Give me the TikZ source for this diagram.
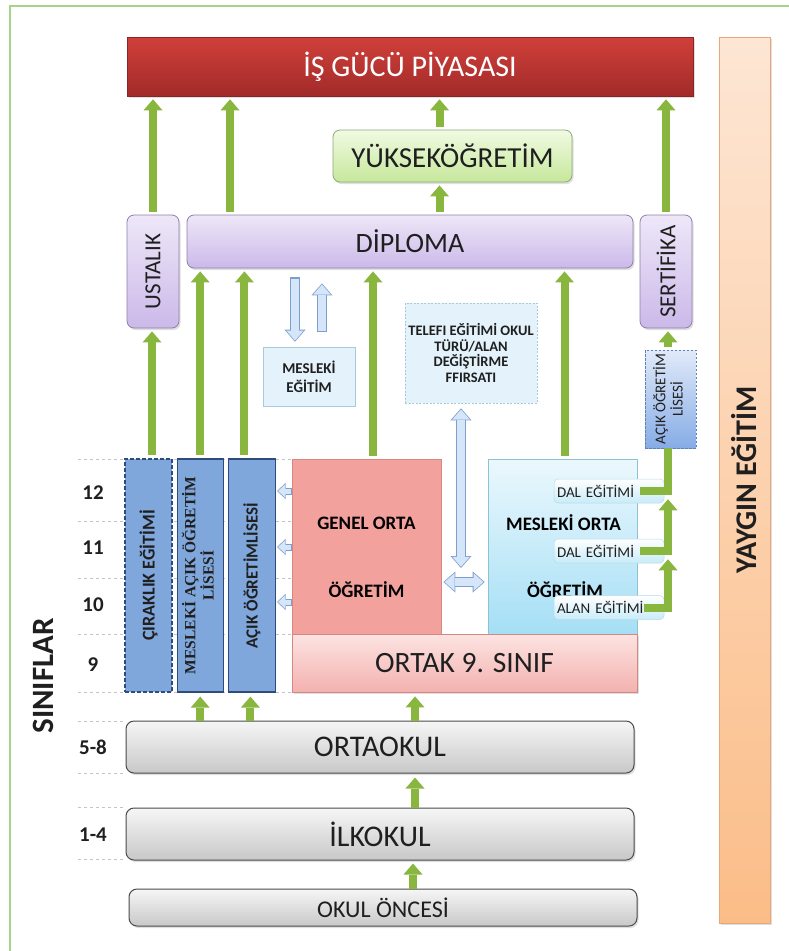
\documentclass[tikz,border=0pt]{standalone}
\usepackage{fontspec}
\setmainfont{Carlito}
\newfontfamily\timesfont{Liberation Serif}
\usepackage{tikz}
\usetikzlibrary{arrows.meta}
\usetikzlibrary{positioning}
\usetikzlibrary{calc}
\usetikzlibrary{shadows}

\definecolor{framegreen}{HTML}{A8D48A}
\definecolor{arrowgreen}{HTML}{89B63E}
\definecolor{marketred}{HTML}{D13F3A}
\definecolor{marketdark}{HTML}{A12B2A}
\definecolor{lavtop}{HTML}{EEE7F8}
\definecolor{lavbot}{HTML}{CBB9E9}
\definecolor{lavline}{HTML}{8E80A8}
\definecolor{uptop}{HTML}{F1FAE2}
\definecolor{upbot}{HTML}{C6E89B}
\definecolor{upline}{HTML}{8FA877}
\definecolor{hollowline}{HTML}{7F9FCB}
\definecolor{hollowfill}{HTML}{D5E5FA}
\definecolor{colfill}{HTML}{7FA7DC}
\definecolor{colline}{HTML}{2D4C7B}
\definecolor{genfill}{HTML}{F3A19D}
\definecolor{genline}{HTML}{D58784}
\definecolor{pinktop}{HTML}{FCE4E2}
\definecolor{pinkbot}{HTML}{F3B1AF}
\definecolor{cyantop}{HTML}{EBF8FD}
\definecolor{cyanbot}{HTML}{A5DFF5}
\definecolor{cyanline}{HTML}{8CC2D8}
\definecolor{greytop}{HTML}{F6F6F6}
\definecolor{greybot}{HTML}{C8C8C8}
\definecolor{greyline}{HTML}{4B4B4B}
\definecolor{peachtop}{HTML}{FDE6D4}
\definecolor{peachbot}{HTML}{FBBD88}
\definecolor{peachline}{HTML}{E8A679}
\definecolor{bluetop}{HTML}{E1EAF9}
\definecolor{bluebot}{HTML}{86ACE6}
\definecolor{blueline}{HTML}{6084B8}
\definecolor{paleblue}{HTML}{E4F3FB}
\definecolor{paleline}{HTML}{A9CADB}
\definecolor{gridgrey}{HTML}{C4C4C4}

\newcommand{\fs}[2]{\fontsize{#1}{#2}\selectfont}

\tikzset{
  boxbase/.style={inner sep=0pt, align=center, text=black!88},
  soft/.style={drop shadow={shadow xshift=1.5pt, shadow yshift=-2pt, opacity=0.25}},
  market/.style={boxbase, soft, top color=marketred, bottom color=marketdark, draw=marketdark!85!black, line width=0.6pt},
  lav/.style={boxbase, soft, rounded corners=7pt, top color=lavtop, bottom color=lavbot, draw=lavline, line width=0.8pt},
  lime/.style={boxbase, soft, rounded corners=7pt, top color=uptop, bottom color=upbot, draw=upline, line width=0.8pt},
  pale/.style={boxbase, fill=paleblue, draw=paleline, line width=0.6pt},
  sidecol/.style={boxbase, fill=colfill, draw=colline, line width=1.2pt, minimum height=233pt},
  genbox/.style={boxbase, fill=genfill, draw=genline, line width=0.8pt},
  pinkbox/.style={boxbase, soft, top color=pinktop, bottom color=pinkbot, draw=genline, line width=0.8pt},
  cyanbox/.style={boxbase, top color=cyantop, bottom color=cyanbot, draw=cyanline, line width=0.6pt},
  branchtag/.style={boxbase, rounded corners=4pt, top color=white, bottom color=cyantop!50!cyanbot, draw=cyanline!60, line width=0.5pt, minimum height=24pt, text width=104pt, inner xsep=3pt, align=left, font=\fs{15}{18}},
  stage/.style={boxbase, soft, rounded corners=8pt, top color=greytop, bottom color=greybot, draw=greyline, line width=1pt, minimum width=508pt},
  peach/.style={boxbase, soft, top color=peachtop, bottom color=peachbot, draw=peachline, line width=0.8pt},
  bluebox/.style={boxbase, top color=bluetop, bottom color=bluebot, draw=blueline, line width=0.8pt, dash pattern=on 2.5pt off 1.5pt},
  grade/.style={boxbase, font=\fs{21}{24}\bfseries},
  garrow/.style={draw=arrowgreen, line width=8pt, -{Triangle[width=19pt,length=11pt,line width=0pt]}},
  gline/.style={draw=arrowgreen, line width=8pt},
  gapped/.style={shorten <=3pt, shorten >=3pt},
  hbigout/.style={draw=hollowline, line width=10pt},
  hbigin/.style={draw=hollowfill, line width=8pt, shorten <=1.2pt, shorten >=1.2pt},
  hsmallout/.style={draw=hollowline, line width=7pt},
  hsmallin/.style={draw=hollowfill, line width=5pt, shorten <=1.1pt, shorten >=1.1pt},
  hob/.tip={Triangle[width=21pt,length=12pt,line width=0pt]},
  hib/.tip={Triangle[width=17.5pt,length=10pt,line width=0pt]},
  hos/.tip={Triangle[width=16pt,length=8.5pt,line width=0pt]},
  his/.tip={Triangle[width=13pt,length=6.9pt,line width=0pt]},
}

\begin{document}
\begin{tikzpicture}[x=1pt,y=-1pt]
	\useasboundingbox (0,0) rectangle (789,951);
	
	% frame and grade lines
	\draw[framegreen, line width=1.5pt] (10,951) -- (10,6) -- (789,6);
	\foreach \y in {459,521,578,634,692}
		\draw[gridgrey, dashed, line width=0.6pt] (78,\y) -- (292,\y);
	\foreach \y in {721,773,807,859}
		\draw[gridgrey, dashed, line width=0.6pt] (78,\y) -- (126,\y);
	
	\node[market, minimum width=566pt, minimum height=59pt, text=white, font=\fs{30}{34}] (market) at (410,66.5) {İŞ GÜCÜ PİYASASI};
	\node[peach, minimum width=51pt, minimum height=886pt, font=\fs{30}{34}\bfseries] (yaygin) at (744.5,480) {\rotatebox{90}{YAYGIN EĞİTİM}};
	
	\node[lime, minimum width=239pt, minimum height=52pt, font=\fs{29}{33}] (yuksek) at (452.5,156) {YÜKSEKÖĞRETİM};
	\node[lav, minimum width=446pt, minimum height=53pt, font=\fs{28}{32}] (diploma) at (410,241.5) {DİPLOMA};
	\node[lav, minimum width=52pt, minimum height=113pt, font=\fs{23}{26}] (ustalik) at (153,271.5) {\rotatebox{90}{USTALIK}};
	\node[lav, minimum width=52pt, minimum height=113pt, font=\fs{23}{26}] (sertifika) at (666,271.5) {\rotatebox{90}{SERTİFİKA}};
	
	\node[pale, minimum width=92pt, minimum height=59pt, font=\fs{15}{19}\bfseries] (meslegit) at (309,376.5) {MESLEKİ\\EĞİTİM};
	\node[pale, dash pattern=on 2pt off 1.5pt, minimum width=132pt, minimum height=100pt, font=\fs{14.5}{15.5}\bfseries] (telefi) at (471,353) {TELEFI EĞİTİMİ OKUL\\TÜRÜ/ALAN\\DEĞİŞTİRME\\FFIRSATI};
	\node[bluebox, minimum width=51pt, minimum height=98pt, font=\fs{15}{17}] (acikr) at (670.5,399) {\rotatebox{90}{\begin{tabular}{@{}c@{}}AÇIK ÖĞRETİM\\LİSESİ\end{tabular}}};
	
	% left columns
	\node[sidecol, dash pattern=on 4pt off 2pt, minimum width=47pt, font=\fs{18}{22}\bfseries] (cirak) at (148.5,575.5) {\rotatebox{90}{ÇIRAKLIK EĞİTİMİ}};
	\node[sidecol, minimum width=46pt, font=\timesfont\fs{15.5}{16}\bfseries, right=4pt of cirak] (maol) {\rotatebox{90}{\begin{tabular}{@{}c@{}}MESLEKİ AÇIK ÖĞRETİM\\LİSESİ\end{tabular}}};
	\node[sidecol, minimum width=47pt, font=\fs{17}{20}\bfseries, right=4pt of maol] (aol) {\rotatebox{90}{AÇIK ÖĞRETİMLİSESİ}};
	
	% secondary education
	\node[genbox, minimum width=149pt, minimum height=175pt] (genel) at (366.5,546.5) {};
	\node[font=\fs{19}{22}\bfseries] (genel1) at (366.5,523) {GENEL ORTA};
	\node[font=\fs{19}{22}\bfseries] (genel2) at (366.5,590) {ÖĞRETİM};
	\node[cyanbox, minimum width=149pt, minimum height=175pt] (meslorta) at (562.5,546.5) {};
	\node[font=\fs{19}{22}\bfseries] (meslorta1) at (563.5,523) {MESLEKİ ORTA};
	\node[font=\fs{19}{22}\bfseries] (meslorta2) at (565,590) {ÖĞRETİM};
	\node[pinkbox, minimum width=345pt, minimum height=58pt, font=\fs{29.5}{33}] (ortak) at (464.5,663) {ORTAK 9. SINIF};
	
	\node[branchtag] (dal1) at (609,491) {DAL EĞİTİMİ};
	\node[branchtag] (dal2) at (609,551) {DAL EĞİTİMİ};
	\node[branchtag] (alan) at (609,607.5) {ALAN EĞİTİMİ};
	
	% basic education
	\node[stage, minimum height=52pt, font=\fs{30}{34}] (ortaokul) at (380,747) {ORTAOKUL};
	\node[stage, minimum height=52pt, font=\fs{30}{34}, below=34pt of ortaokul] (ilkokul) {İLKOKUL};
	\node[stage, minimum height=37pt, font=\fs{24}{28}] (oncesi) at (383,907.5) {OKUL ÖNCESİ};
	
	% grades
	\node[grade] (g12) at (93,493) {12};
	\node[grade] (g11) at (93,548) {11};
	\node[grade] (g10) at (93,605) {10};
	\node[grade] (g9) at (93,665) {9};
	\node[grade] (g58) at (93,747) {5-8};
	\node[grade] (g14) at (93,835) {1-4};
	\node[boxbase, font=\fs{31}{34}\bfseries] (siniflar) at (43,676) {\rotatebox{90}{SINIFLAR}};
	
	% green arrows
	\draw[garrow, gapped] (ustalik.north) -- (ustalik.north |- market.south);
	\draw[garrow, gapped] ([xshift=-180pt]diploma.north) -- ([xshift=-180pt]diploma.north |- market.south);
	\draw[garrow, gapped] ([xshift=-13pt]yuksek.north) -- ([xshift=-13pt]yuksek.north |- market.south);
	\draw[garrow, gapped] (sertifika.north) -- (sertifika.north |- market.south);
	\draw[garrow, gapped] ([xshift=-13pt]yuksek.south |- diploma.north) -- ([xshift=-13pt]yuksek.south);
	
	\draw[garrow, gapped] ([xshift=3.5pt]cirak.north) -- ([xshift=3.5pt]cirak.north |- ustalik.south);
	\draw[garrow, gapped] (maol.north) -- (maol.north |- diploma.south);
	\draw[garrow, gapped] ([xshift=-7.5pt]aol.north) -- ([xshift=-7.5pt]aol.north |- diploma.south);
	\draw[garrow, gapped] ([xshift=6.5pt]genel.north) -- ([xshift=6.5pt]genel.north |- diploma.south);
	\draw[garrow, gapped] ([xshift=2pt]meslorta.north) -- ([xshift=2pt]meslorta.north |- diploma.south);
	\draw[garrow, gapped] ([xshift=-2.5pt]acikr.north) -- ([xshift=-2.5pt]acikr.north |- sertifika.south);
	
	\coordinate (rail) at (668,440);
	\draw[gline] ([xshift=-24pt]dal1.east) -| (rail |- acikr.south);
	\draw[garrow, shorten >=-4pt] ([xshift=-24pt]dal2.east) -| (rail |- dal1.south);
	\draw[garrow, shorten >=-4pt] ([xshift=-20pt]alan.east) -| (rail |- dal2.south);
	
	\draw[garrow, shorten >=4pt] (maol.south |- ortaokul.north) -- (maol.south);
	\draw[garrow, shorten >=4pt] ([xshift=-1.5pt]aol.south |- ortaokul.north) -- ([xshift=-1.5pt]aol.south);
	\draw[garrow, shorten >=4pt] ([xshift=-49.5pt]ortak.south |- ortaokul.north) -- ([xshift=-49.5pt]ortak.south);
	\draw[garrow, shorten >=4pt] ([xshift=35pt]ilkokul.north) -- ([xshift=35pt]ilkokul.north |- ortaokul.south);
	\draw[garrow, shorten >=3pt] ([xshift=30pt]oncesi.north) -- ([xshift=30pt]oncesi.north |- ilkokul.south);
	
	% hollow arrows
	\draw[hbigout, -hob] ($(meslegit.north |- diploma.south)+(-14,9)$) -- ($(meslegit.north)+(-14,-5)$);
	\draw[hbigin, -hib] ($(meslegit.north |- diploma.south)+(-14,9)$) -- ($(meslegit.north)+(-14,-5)$);
	\draw[hbigout, -hob] ($(meslegit.north)+(13,-15)$) -- ($(meslegit.north |- diploma.south)+(13,15)$);
	\draw[hbigin, -hib] ($(meslegit.north)+(13,-15)$) -- ($(meslegit.north |- diploma.south)+(13,15)$);
	
	\coordinate (swap) at (464,582);
	\draw[hbigout, hob-hob] ($(telefi.south)+(-10,5)$) -- ($(swap)+(-3,-14)$);
	\draw[hbigin, hib-hib] ($(telefi.south)+(-10,5)$) -- ($(swap)+(-3,-14)$);
	\draw[hbigout, hob-hob] ($(genel.east |- swap)+(2,0)$) -- ($(meslorta.west |- swap)+(-3,0)$);
	\draw[hbigin, hib-hib] ($(genel.east |- swap)+(2,0)$) -- ($(meslorta.west |- swap)+(-3,0)$);
	
	\foreach \y in {491,547,602} {
		\draw[hsmallout, -hos] (genel.west |- 0,\y) -- ($(aol.east |- 0,\y)+(1,0)$);
		\draw[hsmallin, -his] (genel.west |- 0,\y) -- ($(aol.east |- 0,\y)+(1,0)$);
	}
\end{tikzpicture}
\end{document}
